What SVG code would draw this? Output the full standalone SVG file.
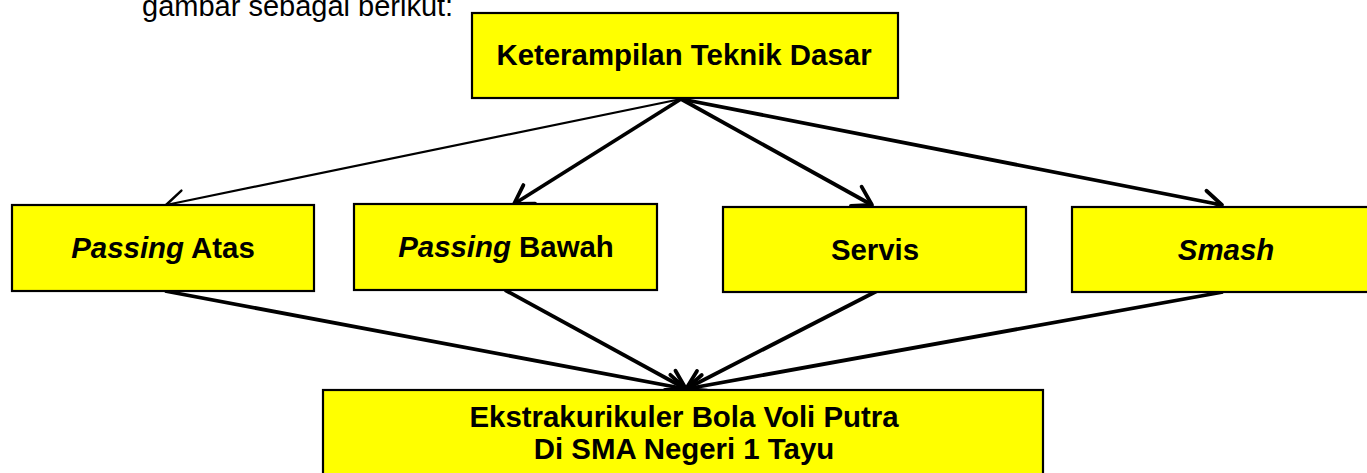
<svg xmlns="http://www.w3.org/2000/svg" width="1367" height="473" viewBox="0 0 1367 473">
<style>
.box{fill:#ffff00;stroke:#000;stroke-width:2.2}
.t{font-family:"Liberation Sans",Arial,sans-serif;font-weight:bold;font-size:29.4px;fill:#000;text-anchor:middle}
.i{font-style:italic}
.thin{stroke:#000;stroke-width:2.2;fill:none}
.thick{stroke:#000;stroke-width:3.8;fill:none}
</style>
<defs>
<marker id="ah1" markerUnits="userSpaceOnUse" viewBox="-22 -14 26 28" markerWidth="26" markerHeight="28" refX="0" refY="0" orient="auto" overflow="visible">
<path d="M-18,-11 L0,0 L-18,11" fill="none" stroke="#000" stroke-width="2.4" stroke-linecap="round" stroke-linejoin="round"/>
</marker>
<marker id="ah2" markerUnits="userSpaceOnUse" viewBox="-22 -14 26 28" markerWidth="26" markerHeight="28" refX="0" refY="0" orient="auto" overflow="visible">
<path d="M-18,-11 L0,0 L-18,11" fill="none" stroke="#000" stroke-width="3.8" stroke-linecap="round" stroke-linejoin="round"/>
</marker>
</defs>
<text x="142" y="16" font-family="Liberation Sans,Arial,sans-serif" font-size="29" fill="#000">gambar sebagai berikut:</text>
<g id="connectors">
<line class="thin" x1="681" y1="99" x2="166" y2="205" marker-end="url(#ah1)"/>
<line class="thick" x1="681" y1="99" x2="514" y2="204" marker-end="url(#ah2)"/>
<line class="thick" x1="681" y1="99" x2="872" y2="205" marker-end="url(#ah2)"/>
<line class="thick" x1="681" y1="99" x2="1222" y2="205" marker-end="url(#ah2)"/>
<line class="thick" x1="165" y1="291" x2="686" y2="389" marker-end="url(#ah2)"/>
<line class="thick" x1="505" y1="290" x2="686" y2="389" marker-end="url(#ah2)"/>
<line class="thick" x1="877" y1="291" x2="686" y2="389" marker-end="url(#ah2)"/>
<line class="thick" x1="1223" y1="292" x2="686" y2="389" marker-end="url(#ah2)"/>
</g>
<g id="top">
<rect class="box" x="472" y="13" width="426" height="85"/>
<text class="t" x="684" y="65">Keterampilan Teknik Dasar</text>
</g>
<g id="passing-atas">
<rect class="box" x="12" y="205" width="302" height="86"/>
<text class="t" x="163" y="258"><tspan class="i">Passing</tspan> Atas</text>
</g>
<g id="passing-bawah">
<rect class="box" x="354" y="204" width="303" height="86"/>
<text class="t" x="506" y="257"><tspan class="i">Passing</tspan> Bawah</text>
</g>
<g id="servis">
<rect class="box" x="723" y="207" width="303" height="85"/>
<text class="t" x="875" y="260">Servis</text>
</g>
<g id="smash">
<rect class="box" x="1072" y="207" width="310" height="85"/>
<text class="t i" x="1226" y="260">Smash</text>
</g>
<g id="bottom">
<rect class="box" x="323" y="390" width="720" height="95"/>
<text class="t" x="684" y="427">Ekstrakurikuler Bola Voli Putra</text>
<text class="t" x="684" y="459">Di SMA Negeri 1 Tayu</text>
</g>
</svg>
